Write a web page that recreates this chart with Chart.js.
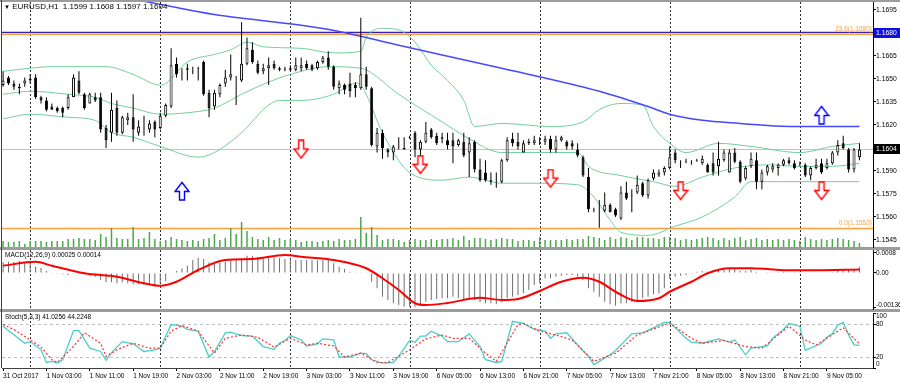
<!DOCTYPE html>
<html>
<head>
<meta charset="utf-8">
<script src="https://cdn.jsdelivr.net/npm/chart.js@4.4.1/dist/chart.umd.min.js"></script>
<style>
html, body { margin: 0; padding: 0; background: #fff; }
#wrap { position: relative; width: 900px; height: 383px; overflow: hidden; font-family: 'Liberation Sans', Arial, sans-serif; }
canvas { position: absolute; left: 0; }
.bar { position: absolute; left: 0; width: 900px; background: #9c9c9c; }
.title { position: absolute; left: 5px; font-size: 6.5px; color: #000; white-space: pre; z-index: 5; }
</style>
</head>
<body>
<div id="wrap">
  <div class="bar" style="top:0;height:2px"></div>
  <div class="bar" style="top:247px;height:3px"></div>
  <div class="bar" style="top:309px;height:3px"></div>
  <div style="position:absolute;left:1px;top:0;width:1px;height:368px;background:#404040"></div>
  <canvas id="cMain" width="900" height="248" style="top:0"></canvas>
  <canvas id="cMacd" width="900" height="65" style="top:247px"></canvas>
  <canvas id="cStoch" width="900" height="78" style="top:305px"></canvas>
  <div class="title" style="top:2px;left:4px;font-size:8px"><span style="font-size:6px">▼</span> EURUSD,H1  1.1599 1.1608 1.1597 1.1604</div>
  <div class="title" style="top:251px">MACD(12,26,9) 0.00025 0.00014</div>
  <div class="title" style="top:313px">Stoch(5,3,3) 41.0256 44.2248</div>
</div>
<script>
const FONT = "'Liberation Sans', Arial, sans-serif";

// EURUSD H1, 31 Oct 19:00 .. 9 Nov 11:00 (159 bars)
const openP = [
  1.1646,1.1651,1.1647,1.1644,1.1647,1.1649,1.1651,1.1638,1.1636,1.1632,
  1.1631,1.1631,1.1631,1.1638,1.1649,1.1640,1.1634,1.1638,1.1638,1.1618,
  1.1615,1.1631,1.1615,1.1623,1.1625,1.1615,1.1618,1.1617,1.1622,1.1618,
  1.1626,1.1632,1.1660,1.1654,1.1656,1.1655,1.1657,1.1661,1.1641,1.1632,
  1.1640,1.1647,1.1651,1.1651,1.1649,1.1660,1.1669,1.1660,1.1655,1.1657,
  1.1660,1.1657,1.1656,1.1656,1.1656,1.1657,1.1660,1.1659,1.1657,1.1661,
  1.1664,1.1658,1.1644,1.1646,1.1647,1.1646,1.1644,1.1653,1.1644,1.1606,
  1.1615,1.1604,1.1602,1.1606,1.1605,1.1612,1.1615,1.1604,1.1609,1.1617,
  1.1613,1.1611,1.1610,1.1610,1.1607,1.1609,1.1602,1.1609,1.1591,1.1589,
  1.1584,1.1583,1.1583,1.1597,1.1611,1.1609,1.1602,1.1608,1.1608,1.1609,
  1.1609,1.1611,1.1604,1.1610,1.1609,1.1608,1.1604,1.1599,1.1586,1.1565,
  1.1565,1.1564,1.1568,1.1565,1.1559,1.1576,1.1574,1.1576,1.1582,1.1574,
  1.1585,1.1587,1.1589,1.1592,1.1602,1.1595,1.1596,1.1595,1.1597,1.1595,
  1.1594,1.1595,1.1593,1.1597,1.1589,1.1602,1.1596,1.1585,1.1593,1.1597,
  1.1583,1.1589,1.1591,1.1592,1.1594,1.1597,1.1595,1.1594,1.1594,1.1587,
  1.1592,1.1595,1.1592,1.1595,1.1602,1.1608,1.1604,1.1591,1.1599
];
const highP = [
  1.1655,1.1652,1.1649,1.1647,1.1651,1.1653,1.1653,1.1639,1.1638,1.1634,
  1.1632,1.1632,1.1640,1.1653,1.1655,1.1641,1.1641,1.1641,1.1641,1.1620,
  1.1641,1.1636,1.1626,1.1628,1.1640,1.1623,1.1626,1.1623,1.1623,1.1628,
  1.1634,1.1670,1.1664,1.1657,1.1660,1.1658,1.1658,1.1662,1.1643,1.1643,
  1.1647,1.1656,1.1666,1.1652,1.1687,1.1677,1.1674,1.1662,1.1660,1.1664,
  1.1662,1.1658,1.1658,1.1659,1.1664,1.1664,1.1662,1.1660,1.1662,1.1665,
  1.1668,1.1659,1.1649,1.1647,1.1654,1.1648,1.1690,1.1658,1.1645,1.1618,
  1.1617,1.1605,1.1607,1.1612,1.1612,1.1613,1.1616,1.1610,1.1622,1.1618,
  1.1615,1.1615,1.1615,1.1615,1.1611,1.1615,1.1612,1.1610,1.1598,1.1597,
  1.1589,1.1589,1.1598,1.1612,1.1615,1.1615,1.1610,1.1611,1.1613,1.1612,
  1.1613,1.1613,1.1613,1.1613,1.1610,1.1610,1.1608,1.1600,1.1592,1.1566,
  1.1571,1.1576,1.1569,1.1566,1.1580,1.1583,1.1578,1.1587,1.1583,1.1585,
  1.1591,1.1591,1.1593,1.1606,1.1604,1.1597,1.1598,1.1597,1.1598,1.1600,
  1.1595,1.1602,1.1609,1.1604,1.1604,1.1605,1.1597,1.1593,1.1602,1.1602,
  1.1591,1.1594,1.1595,1.1595,1.1598,1.1599,1.1597,1.1596,1.1595,1.1593,
  1.1598,1.1598,1.1598,1.1603,1.1610,1.1613,1.1605,1.1605,1.1608
];
const lowP = [
  1.1645,1.1646,1.1643,1.1640,1.1645,1.1647,1.1637,1.1634,1.1629,1.1630,
  1.1628,1.1625,1.1630,1.1638,1.1640,1.1630,1.1634,1.1635,1.1615,1.1605,
  1.1609,1.1613,1.1614,1.1620,1.1609,1.1613,1.1613,1.1615,1.1612,1.1617,
  1.1625,1.1631,1.1651,1.1649,1.1649,1.1653,1.1649,1.1639,1.1625,1.1630,
  1.1638,1.1645,1.1649,1.1633,1.1648,1.1659,1.1660,1.1653,1.1653,1.1646,
  1.1656,1.1655,1.1655,1.1655,1.1655,1.1655,1.1656,1.1655,1.1656,1.1660,
  1.1656,1.1643,1.1640,1.1640,1.1638,1.1638,1.1643,1.1643,1.1606,1.1602,
  1.1598,1.1599,1.1597,1.1604,1.1604,1.1611,1.1599,1.1594,1.1608,1.1611,
  1.1607,1.1608,1.1604,1.1595,1.1606,1.1599,1.1586,1.1589,1.1583,1.1583,
  1.1581,1.1579,1.1582,1.1596,1.1606,1.1604,1.1602,1.1607,1.1607,1.1607,
  1.1607,1.1602,1.1602,1.1609,1.1604,1.1604,1.1599,1.1586,1.1563,1.1563,
  1.1553,1.1563,1.1563,1.1560,1.1558,1.1571,1.1563,1.1575,1.1573,1.1572,
  1.1584,1.1586,1.1587,1.1591,1.1595,1.1592,1.1595,1.1594,1.1596,1.1594,
  1.1589,1.1587,1.1587,1.1596,1.1589,1.1595,1.1582,1.1584,1.1592,1.1578,
  1.1578,1.1587,1.1589,1.1587,1.1593,1.1594,1.1591,1.1593,1.1586,1.1584,
  1.1591,1.1588,1.1591,1.1594,1.1600,1.1604,1.1589,1.1589,1.1597
];
const closeP = [
  1.1649,1.1647,1.1645,1.1645,1.1649,1.1650,1.1638,1.1636,1.1630,1.1630,
  1.1629,1.1628,1.1638,1.1651,1.1641,1.1631,1.1640,1.1636,1.1617,1.1610,
  1.1630,1.1615,1.1625,1.1625,1.1617,1.1619,1.1618,1.1621,1.1617,1.1626,
  1.1633,1.1659,1.1653,1.1654,1.1657,1.1655,1.1657,1.1640,1.1631,1.1641,
  1.1646,1.1651,1.1653,1.1651,1.1660,1.1670,1.1661,1.1654,1.1657,1.1659,
  1.1657,1.1656,1.1656,1.1657,1.1659,1.1659,1.1657,1.1656,1.1661,1.1664,
  1.1658,1.1645,1.1647,1.1643,1.1642,1.1644,1.1653,1.1645,1.1607,1.1615,
  1.1605,1.1602,1.1606,1.1606,1.1604,1.1612,1.1604,1.1609,1.1615,1.1612,
  1.1608,1.1612,1.1607,1.1606,1.1610,1.1600,1.1608,1.1591,1.1584,1.1584,
  1.1583,1.1583,1.1597,1.1610,1.1608,1.1606,1.1608,1.1609,1.1610,1.1609,
  1.1611,1.1604,1.1610,1.1612,1.1606,1.1606,1.1600,1.1587,1.1565,1.1565,
  1.1565,1.1568,1.1563,1.1561,1.1576,1.1572,1.1574,1.1581,1.1574,1.1584,
  1.1589,1.1589,1.1592,1.1599,1.1597,1.1595,1.1596,1.1595,1.1597,1.1598,
  1.1589,1.1589,1.1598,1.1602,1.1602,1.1596,1.1583,1.1592,1.1598,1.1583,
  1.1589,1.1593,1.1593,1.1594,1.1597,1.1595,1.1592,1.1594,1.1587,1.1592,
  1.1594,1.1589,1.1595,1.1602,1.1607,1.1605,1.1591,1.1604,1.1604
];
const volume = [
  600,500,500,600,300,600,600,600,500,600,
  600,600,800,800,900,800,800,700,1300,1000,
  1900,900,800,800,2000,800,900,1500,800,600,
  700,1000,800,700,600,700,600,800,900,1300,
  700,900,1900,1300,2500,1600,1000,800,700,1000,
  700,900,700,800,700,500,600,600,500,600,
  700,600,800,700,700,800,3000,1400,2000,1200,
  700,800,800,700,500,700,800,700,700,800,
  700,800,800,900,700,1100,700,900,900,800,
  700,800,900,800,800,600,700,700,600,1000,
  700,700,700,700,800,700,800,800,1100,1000,
  900,700,1000,800,1000,900,700,1000,1000,900,
  900,800,1000,1000,900,700,800,700,800,900,
  1000,900,700,900,700,900,1000,700,800,900,
  700,800,700,800,700,800,700,600,1000,800,
  700,800,700,800,900,800,700,600,400
];

// Bollinger bands (read at sample bars)
const bbUpperIdx = [0,5,9,19,24,29,30,34,39,42,45,48,55,61,66,67,70,73,76,79,82,85,87,92,101,107,110,114,118,120,123,126,132,138,147,153,158];
const bbUpper = [1.1655,1.1657,1.1658,1.1658,1.1653,1.1646,1.1647,1.1661,1.1666,1.1669,1.1674,1.1671,1.1670,1.1667,1.1668,1.1677,1.1683,1.1682,1.1674,1.1659,1.1649,1.1636,1.1619,1.1621,1.1619,1.1622,1.1630,1.1634,1.1633,1.1619,1.1608,1.1602,1.1608,1.1606,1.1602,1.1606,1.1608];
const bbMidIdx = [0,5,12,17,20,24,29,34,39,44,49,53,60,66,67,73,81,86,92,98,106,108,114,120,124,129,135,141,147,153,158];
const bbMid = [1.1640,1.1642,1.1640,1.1638,1.1634,1.1631,1.1627,1.1628,1.1631,1.1640,1.1648,1.1653,1.1658,1.1657,1.1656,1.1640,1.1622,1.1611,1.1602,1.1602,1.1602,1.1593,1.1587,1.1583,1.1580,1.1586,1.1592,1.1594,1.1593,1.1593,1.1595];
const bbLowerIdx = [0,5,12,17,20,24,29,36,39,44,49,51,55,61,65,66,67,70,75,81,86,92,98,106,109,112,114,119,124,129,135,138,144,150,158];
const bbLower = [1.1624,1.1627,1.1625,1.1623,1.1615,1.1612,1.1606,1.1599,1.1602,1.1615,1.1633,1.1636,1.1636,1.1640,1.1647,1.1646,1.1640,1.1615,1.1589,1.1584,1.1586,1.1582,1.1582,1.1581,1.1573,1.1558,1.1550,1.1548,1.1554,1.1560,1.1573,1.1583,1.1583,1.1583,1.1583];

// slow moving average (blue)
const maIdx = [0,27,39,55,62,73,92,110,119,123,129,136,145,158];
const maVal = [1.1716,1.1700,1.1692,1.1685,1.1681,1.1672,1.1657,1.1642,1.1632,1.1627,1.1623,1.1621,1.1619,1.1619];

// signal arrows
const upArrowIdx = [33, 151];
const upArrowPrice = [1.1577, 1.16265];
const downArrowIdx = [55, 77, 101, 125, 151];
const downArrowPrice = [1.1604, 1.1594, 1.1585, 1.1577, 1.1577];

// levels
const currentPrice = 1.1604;
const lineLevel = 1.1680;
const fibLevels = [1.1680, 1.1553];
const fibNames = ['23.6', '0.0'];

// MACD(12,26,9)
const macdHist = [
  0.00043,0.00045,0.00045,0.00048,0.00045,0.00045,0.00025,0.00021,0.00008,0.00003,
  -0.00001,-0.00005,-0.00008,-0.00003,-0.00001,-0.00005,-0.00011,-0.00015,-0.00028,-0.00037,
  -0.00037,-0.00041,-0.00037,-0.00041,-0.00045,-0.00045,-0.00048,-0.00045,-0.00048,-0.00041,
  -0.00032,0.00000,0.00008,0.00019,0.00029,0.00052,0.00061,0.00056,0.00043,0.00039,
  0.00043,0.00045,0.00052,0.00052,0.00059,0.00069,0.00069,0.00061,0.00061,0.00065,
  0.00061,0.00059,0.00056,0.00055,0.00052,0.00052,0.00052,0.00051,0.00051,0.00052,
  0.00052,0.00039,0.00025,0.00016,0.00005,0.00001,0.00001,0.00003,-0.00035,-0.00061,
  -0.00095,-0.00108,-0.00121,-0.00128,-0.00135,-0.00135,-0.00135,-0.00125,-0.00115,-0.00108,
  -0.00104,-0.00101,-0.00101,-0.00095,-0.00101,-0.00108,-0.00101,-0.00108,-0.00117,-0.00121,
  -0.00121,-0.00125,-0.00117,-0.00101,-0.00095,-0.00088,-0.00081,-0.00068,-0.00048,-0.00041,
  -0.00021,-0.00021,-0.00015,-0.00011,-0.00008,-0.00008,-0.00015,-0.00028,-0.00061,-0.00075,
  -0.00095,-0.00115,-0.00125,-0.00131,-0.00121,-0.00121,-0.00115,-0.00108,-0.00101,-0.00095,
  -0.00085,-0.00081,-0.00061,-0.00024,-0.00015,-0.00011,-0.00008,-0.00001,0.00005,0.00008,
  0.00005,0.00011,0.00013,0.00016,0.00019,0.00016,0.00008,0.00008,0.00013,0.00005,
  0.00000,0.00003,0.00003,0.00003,0.00005,0.00003,0.00001,0.00001,0.00000,0.00000,
  0.00000,0.00000,0.00000,0.00001,0.00012,0.00016,0.00013,0.00013,0.00025
];
const macdSigIdx = [0,6,9,15,21,26,29,32,36,41,46,52,55,61,67,70,73,76,78,82,88,92,95,99,103,107,110,113,117,121,123,127,130,134,138,141,144,150,158];
const macdSig = [0.00029,0.00045,0.00029,-0.00001,-0.00015,-0.00041,-0.00051,-0.00035,0.00012,0.00052,0.00056,0.00072,0.00065,0.00052,0.00019,-0.00021,-0.00068,-0.00121,-0.00128,-0.00120,-0.00099,-0.00108,-0.00104,-0.00072,-0.00035,-0.00019,-0.00035,-0.00075,-0.00112,-0.00101,-0.00075,-0.00035,-0.00001,0.00019,0.00019,0.00016,0.00011,0.00011,0.00014];
const macdTickVals = [0.0008, 0, -0.00136];
const macdTickText = ['0.0008', '0.00', '-0.00136'];

// Stochastic(5,3,3)
const stochMainIdx = [0,1,4,5,7,8,9,10,11,13,14,16,18,19,20,22,24,26,28,29,31,33,34,36,38,39,41,42,44,46,48,50,51,52,53,55,56,58,59,61,62,64,66,67,68,70,72,73,75,76,77,78,79,81,82,84,86,88,89,91,92,94,96,98,100,101,102,104,106,108,109,110,112,113,116,118,120,122,123,126,127,129,132,134,135,137,138,141,142,144,145,147,148,151,152,153,154,155,156,157,158];
const stochMain = [76,68,45,48,33,10,12,9,15,68,68,36,30,14,28,48,44,30,33,36,79,76,70,67,20,30,64,65,59,58,39,34,45,50,59,51,40,44,53,51,20,20,27,26,15,9,10,21,50,47,58,58,67,58,48,48,62,39,15,10,12,85,81,70,67,54,62,64,42,21,6,12,24,32,62,64,73,83,83,54,47,45,53,47,51,24,36,40,54,70,81,76,32,45,56,62,78,83,60,42,41];
const stochSigIdx = [0,2,5,7,9,10,13,15,18,19,21,24,27,29,31,33,36,39,41,44,47,50,53,56,58,61,63,66,69,71,75,78,81,83,86,89,91,95,96,99,102,105,109,113,117,119,123,127,129,133,137,140,145,148,150,155,158];
const stochSig = [79,70,51,38,15,10,39,64,45,21,33,45,36,36,67,77,67,27,54,60,56,38,54,42,45,40,20,27,10,10,33,53,60,54,54,27,12,79,81,67,60,51,12,27,60,67,82,54,45,50,39,36,76,51,42,73,44];
const stochTicks = [100, 80, 20, 0];
const stochTickText = ['100', '80', '20', '0'];

// time axis
const timeLabelIdx = [0,8,16,24,32,40,48,56,64,72,80,88,96,104,112,120,128,136,144,152];
const timeLabels = ['31 Oct 2017','1 Nov 03:00','1 Nov 11:00','1 Nov 19:00','2 Nov 03:00','2 Nov 11:00','2 Nov 19:00','3 Nov 03:00','3 Nov 11:00','3 Nov 19:00','6 Nov 05:00','6 Nov 13:00','6 Nov 21:00','7 Nov 05:00','7 Nov 13:00','7 Nov 21:00','8 Nov 05:00','8 Nov 13:00','8 Nov 21:00','9 Nov 05:00'];
const dayStarts = [5, 29, 53, 75, 99, 123, 147];
const priceTicks = [1.1695,1.1680,1.1665,1.1650,1.1635,1.1620,1.1605,1.1590,1.1575,1.1560,1.1545];

const X_MIN = -0.2, X_MAX = 160.5;

// ---------- helpers ----------
const pairs = (xs, ys) => xs.map((x, k) => ({ x: x, y: ys[k] }));
const bars = closeP.map((_, i) => i);
const bull = bars.map(i => closeP[i] > openP[i]);
const wickData = bars.map(i => ({ x: i, y: [lowP[i], highP[i]] }));
const bodyData = bars.map(i => {
  let lo = Math.min(openP[i], closeP[i]), hi = Math.max(openP[i], closeP[i]);
  if (hi - lo < 0.00002) { lo -= 0.00001; hi += 0.00001; }
  return { x: i, y: [lo, hi] };
});

function arrowImg(color, up) {
  const c = document.createElement('canvas');
  c.width = 16; c.height = 20;
  const g = c.getContext('2d');
  const pts = [[5,1],[10,1],[10,9.5],[14.5,9.5],[7.5,18.5],[0.5,9.5],[5,9.5]];
  g.beginPath();
  pts.forEach((p, k) => {
    const y = up ? 20 - p[1] : p[1];
    if (k === 0) g.moveTo(p[0] + 0.5, y); else g.lineTo(p[0] + 0.5, y);
  });
  g.closePath();
  g.fillStyle = '#fff'; g.fill();
  g.lineWidth = 1.4; g.strokeStyle = color; g.stroke();
  return c;
}

const guides = {
  id: 'guides',
  beforeDatasetsDraw(chart, args, opts) {
    const { ctx, chartArea: a, scales } = chart;
    ctx.save();
    ctx.beginPath(); ctx.rect(a.left, a.top, a.width, a.height); ctx.clip();
    ctx.lineWidth = 1;
    ctx.strokeStyle = '#303030';
    ctx.setLineDash([2, 2]);
    dayStarts.forEach(i => {
      const x = Math.round(scales.x.getPixelForValue(i)) + 0.5;
      ctx.beginPath(); ctx.moveTo(x, a.top); ctx.lineTo(x, a.bottom); ctx.stroke();
    });
    (opts.levels || []).forEach(l => {
      const y = Math.round(scales.y.getPixelForValue(l.v)) + (l.dy || 0) + 0.5;
      ctx.setLineDash(l.dash || []);
      ctx.strokeStyle = l.color; ctx.lineWidth = l.w || 1;
      ctx.beginPath(); ctx.moveTo(a.left, y); ctx.lineTo(a.right, y); ctx.stroke();
    });
    ctx.restore();
  },
  afterDraw(chart, args, opts) {
    // side labels for the indicator windows, kept inside the window like the terminal does
    if (!opts.side) return;
    const { ctx, chartArea: a, scales: { y } } = chart;
    ctx.save();
    ctx.font = '6.5px ' + FONT;
    ctx.fillStyle = '#000';
    ctx.textAlign = 'left'; ctx.textBaseline = 'middle';
    opts.side.vals.forEach((v, k) => {
      const py = Math.min(Math.max(y.getPixelForValue(v), a.top + 3), a.bottom - 4);
      ctx.fillText(opts.side.text[k], a.right + 3, py);
    });
    ctx.restore();
  }
};

const mainMarks = {
  id: 'mainMarks',
  afterDraw(chart) {
    const { ctx, chartArea: a, scales: { y } } = chart;
    ctx.save();
    ctx.font = '6.5px ' + FONT;
    ctx.fillStyle = '#ffa040';
    ctx.textAlign = 'right'; ctx.textBaseline = 'bottom';
    fibLevels.forEach((v, k) => {
      ctx.fillText(fibNames[k] + '(' + v.toFixed(4) + ')', a.right - 1, y.getPixelForValue(v) - 1);
    });
    [[lineLevel, '#1010e0'], [currentPrice, '#000']].forEach(([v, bg]) => {
      const py = Math.round(y.getPixelForValue(v));
      ctx.fillStyle = bg;
      ctx.fillRect(a.right + 1, py - 5, 27, 10);
      ctx.fillStyle = '#fff';
      ctx.font = '6.8px ' + FONT;
      ctx.textAlign = 'left'; ctx.textBaseline = 'middle';
      ctx.fillText(v.toFixed(4), a.right + 3, py + 0.5);
    });
    ctx.restore();
  }
};

function xAxis(show) {
  const ax = {
    type: 'linear', min: X_MIN, max: X_MAX, offset: false, bounds: 'data', display: show,
    grid: { offset: false, drawOnChartArea: false, drawTicks: true, tickLength: 3, tickColor: '#000' },
    border: { display: true, color: '#404040' }
  };
  if (show) {
    ax.afterBuildTicks = s => { s.ticks = timeLabelIdx.map(v => ({ value: v })); };
    ax.afterFit = s => { s.height = 15; s.paddingLeft = 0; s.paddingRight = 0; };
    ax.ticks = { callback: (v, k) => timeLabels[k], align: 'start', maxRotation: 0, autoSkip: false,
                 font: { family: FONT, size: 6.5 }, color: '#000', padding: 1 };
  }
  return ax;
}

function yAxis(min, max, tickVals, fmt, size, showLabels) {
  return {
    type: 'linear', position: 'right', min: min, max: max, beginAtZero: false,
    afterBuildTicks: s => { s.ticks = tickVals.map(v => ({ value: v })); },
    afterFit: s => { s.width = 27; s.paddingTop = 0; s.paddingBottom = 0; },
    ticks: { display: showLabels, callback: fmt, autoSkip: false, font: { family: FONT, size: size }, color: '#000', padding: 0 },
    grid: { drawOnChartArea: false, drawTicks: true, tickLength: 3, tickColor: '#000' },
    border: { display: true, color: '#000' }
  };
}

const common = {
  responsive: false, animation: false, devicePixelRatio: 1, events: [],
  plugins: { legend: { display: false }, tooltip: { enabled: false } }
};

// ---------- main price window ----------
new Chart(document.getElementById('cMain'), {
  type: 'bar',
  data: {
    datasets: [
      { type: 'scatter', data: pairs(upArrowIdx, upArrowPrice), pointStyle: arrowImg('#0000ff', true), pointRadius: 6, order: 0 },
      { type: 'scatter', data: pairs(downArrowIdx, downArrowPrice), pointStyle: arrowImg('#ff0000', false), pointRadius: 6, order: 0 },
      { type: 'bar', data: bodyData, grouped: false, barThickness: 3, inflateAmount: 0,
        backgroundColor: c => bull[c.dataIndex] ? '#ffffff' : '#000000',
        borderColor: '#000', borderWidth: 1, borderSkipped: false, order: 1 },
      { type: 'bar', data: wickData, grouped: false, barThickness: 1, inflateAmount: 0,
        backgroundColor: '#000', order: 2 },
      { type: 'line', data: pairs(maIdx, maVal), borderColor: '#4848ff', borderWidth: 1.5,
        pointRadius: 0, cubicInterpolationMode: 'monotone', order: 3 },
      { type: 'line', data: pairs(bbUpperIdx, bbUpper), borderColor: '#72d09c', borderWidth: 1,
        pointRadius: 0, cubicInterpolationMode: 'monotone', order: 4 },
      { type: 'line', data: pairs(bbMidIdx, bbMid), borderColor: '#72d09c', borderWidth: 1,
        pointRadius: 0, cubicInterpolationMode: 'monotone', order: 4 },
      { type: 'line', data: pairs(bbLowerIdx, bbLower), borderColor: '#72d09c', borderWidth: 1,
        pointRadius: 0, cubicInterpolationMode: 'monotone', order: 4 },
      { type: 'bar', data: pairs(bars, volume), yAxisID: 'yv', grouped: false, barThickness: 1.5,
        inflateAmount: 0, backgroundColor: '#4aa84a', order: 5 }
    ]
  },
  options: Object.assign({}, common, {
    layout: { autoPadding: false, padding: { left: 2, right: 0, top: 2, bottom: 1 } },
    scales: {
      x: xAxis(false),
      y: yAxis(1.15404, 1.17002, priceTicks, v => v.toFixed(4), 6.8, true),
      yv: { type: 'linear', display: false, min: 0, max: 24500 }
    },
    plugins: Object.assign({}, common.plugins, {
      guides: { levels: [
        { v: currentPrice, color: '#c4c4c4', w: 1 },
        { v: fibLevels[1], color: '#ffa040', w: 1.5 },
        { v: lineLevel, color: '#ffa040', w: 1, dy: 1 },
        { v: lineLevel, color: '#3a22a8', w: 1.5, dy: -1 }
      ] }
    })
  }),
  plugins: [guides, mainMarks]
});

// ---------- MACD window ----------
new Chart(document.getElementById('cMacd'), {
  type: 'bar',
  data: {
    datasets: [
      { type: 'line', data: pairs(macdSigIdx, macdSig), borderColor: '#ff0000', borderWidth: 2,
        pointRadius: 0, cubicInterpolationMode: 'monotone', order: 0 },
      { type: 'bar', data: pairs(bars, macdHist), grouped: false, barThickness: 1, inflateAmount: 0,
        backgroundColor: '#6e6e6e', order: 1 }
    ]
  },
  options: Object.assign({}, common, {
    layout: { autoPadding: false, padding: { left: 2, right: 0, top: 3, bottom: 3 } },
    scales: {
      x: xAxis(false),
      y: yAxis(-0.00144, 0.00092, macdTickVals, (v, k) => macdTickText[k], 6.5, false)
    },
    plugins: Object.assign({}, common.plugins, {
      guides: { levels: [], side: { vals: macdTickVals, text: macdTickText } }
    })
  }),
  plugins: [guides]
});

// ---------- Stochastic window ----------
new Chart(document.getElementById('cStoch'), {
  type: 'line',
  data: {
    datasets: [
      { data: pairs(stochMainIdx, stochMain), borderColor: '#48cfc8', borderWidth: 1.3,
        pointRadius: 0, tension: 0, order: 1 },
      { data: pairs(stochSigIdx, stochSig), borderColor: '#ff3030', borderWidth: 1.2,
        borderDash: [2, 2], pointRadius: 0, tension: 0, order: 0 }
    ]
  },
  options: Object.assign({}, common, {
    layout: { autoPadding: false, padding: { left: 2, right: 0, top: 8, bottom: 0 } },
    scales: {
      x: xAxis(true),
      y: yAxis(0, 100, stochTicks, v => String(v), 6.5, false)
    },
    plugins: Object.assign({}, common.plugins, {
      guides: {
        levels: [
          { v: 80, color: '#bdbdbd', w: 1, dash: [3, 3] },
          { v: 20, color: '#bdbdbd', w: 1, dash: [3, 3] }
        ],
        side: { vals: stochTicks, text: stochTickText }
      }
    })
  }),
  plugins: [guides]
});
</script>
</body>
</html>
